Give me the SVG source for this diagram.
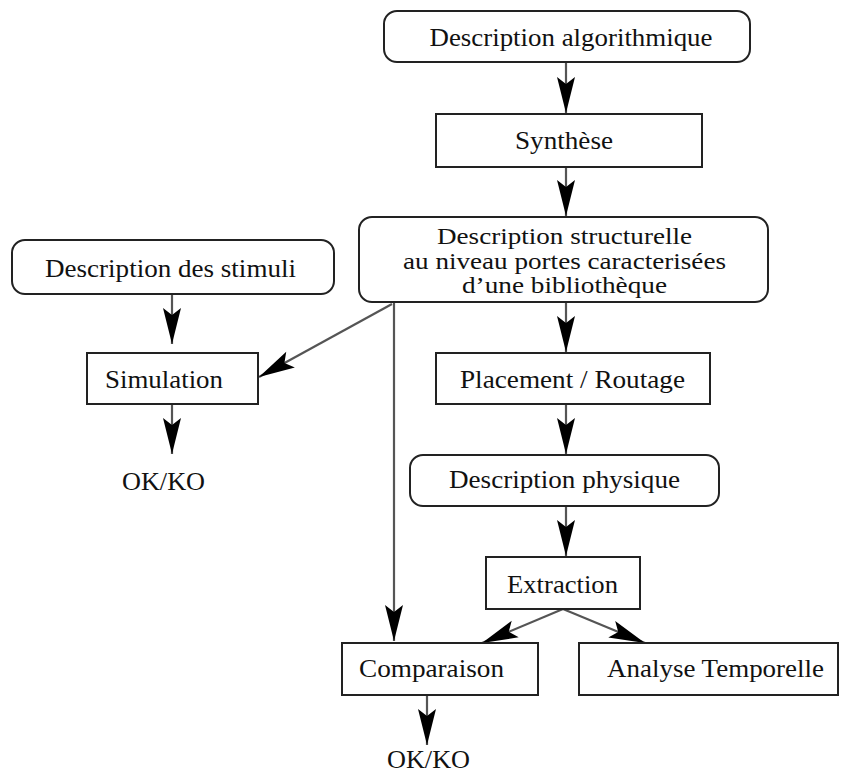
<svg xmlns="http://www.w3.org/2000/svg" width="846" height="773" viewBox="0 0 846 773">
<style>
.box{fill:#fff;stroke:#222;stroke-width:2}
.t{font-family:"Liberation Serif","Times New Roman",serif;font-size:25px;fill:#111;text-anchor:middle}
.s{font-size:23px}
.c{fill:none;stroke:#555;stroke-width:2.2}
</style>
<defs>
<marker id="ah" markerUnits="userSpaceOnUse" markerWidth="40" markerHeight="22" viewBox="-38 -11 40 22" refX="0" refY="0" orient="auto">
<path d="M0,0 L-36,-9 L-29,0 L-36,9 Z" fill="#000"/>
</marker>
</defs>
<rect width="846" height="773" fill="#fff"/>
<g id="connectors">
<line class="c" x1="566" y1="62" x2="566" y2="113" marker-end="url(#ah)"/>
<line class="c" x1="566" y1="167" x2="566" y2="216" marker-end="url(#ah)"/>
<line class="c" x1="566" y1="302" x2="566" y2="352" marker-end="url(#ah)"/>
<line class="c" x1="566" y1="404" x2="566" y2="454" marker-end="url(#ah)"/>
<line class="c" x1="566" y1="506" x2="566" y2="556" marker-end="url(#ah)"/>
<line class="c" x1="172" y1="294" x2="172" y2="344" marker-end="url(#ah)"/>
<line class="c" x1="172" y1="404" x2="172" y2="454" marker-end="url(#ah)"/>
<line class="c" x1="392" y1="304" x2="259" y2="377" marker-end="url(#ah)"/>
<line class="c" x1="394" y1="302" x2="394" y2="641" marker-end="url(#ah)"/>
<line class="c" x1="563" y1="609" x2="482" y2="643" marker-end="url(#ah)"/>
<line class="c" x1="563" y1="609" x2="645" y2="643" marker-end="url(#ah)"/>
<line class="c" x1="427" y1="695" x2="427" y2="745" marker-end="url(#ah)"/>
</g>
<g id="desc-algo"><rect class="box" x="384" y="11" width="366" height="51" rx="13"/><text class="t" x="571" y="46" textLength="283" lengthAdjust="spacingAndGlyphs">Description algorithmique</text></g>
<g id="synthese"><rect class="box" x="436" y="114" width="266" height="53"/><text class="t" x="564" y="149" textLength="98" lengthAdjust="spacingAndGlyphs">Synthèse</text></g>
<g id="desc-struct"><rect class="box" x="359" y="217" width="409" height="85" rx="13"/>
<text class="t s" x="564.5" y="244" textLength="255" lengthAdjust="spacingAndGlyphs">Description structurelle</text>
<text class="t s" x="564.5" y="269" textLength="323" lengthAdjust="spacingAndGlyphs">au niveau portes caracterisées</text>
<text class="t s" x="564.5" y="293" textLength="205" lengthAdjust="spacingAndGlyphs">d’une bibliothèque</text></g>
<g id="desc-stimuli"><rect class="box" x="12" y="240" width="322" height="54" rx="13"/><text class="t" x="170.5" y="277" textLength="251" lengthAdjust="spacingAndGlyphs">Description des stimuli</text></g>
<g id="simulation"><rect class="box" x="87" y="353" width="171" height="51"/><text class="t" x="164" y="388" textLength="118" lengthAdjust="spacingAndGlyphs">Simulation</text></g>
<g id="okko-1"><text class="t" x="163.5" y="490" textLength="83" lengthAdjust="spacingAndGlyphs">OK/KO</text></g>
<g id="placement"><rect class="box" x="436" y="353" width="274" height="51"/><text class="t" x="572.5" y="388" textLength="225" lengthAdjust="spacingAndGlyphs">Placement / Routage</text></g>
<g id="desc-phys"><rect class="box" x="410" y="455" width="309" height="51" rx="13"/><text class="t" x="564.5" y="488" textLength="231" lengthAdjust="spacingAndGlyphs">Description physique</text></g>
<g id="extraction"><rect class="box" x="486" y="557" width="154" height="52"/><text class="t" x="562.5" y="593" textLength="111" lengthAdjust="spacingAndGlyphs">Extraction</text></g>
<g id="comparaison"><rect class="box" x="342" y="643" width="196" height="52"/><text class="t" x="431.5" y="677" textLength="145" lengthAdjust="spacingAndGlyphs">Comparaison</text></g>
<g id="analyse"><rect class="box" x="579" y="643" width="259" height="52"/><text class="t" x="715.5" y="677" textLength="217" lengthAdjust="spacingAndGlyphs">Analyse Temporelle</text></g>
<g id="okko-2"><text class="t" x="428.5" y="768" textLength="83" lengthAdjust="spacingAndGlyphs">OK/KO</text></g>
</svg>
